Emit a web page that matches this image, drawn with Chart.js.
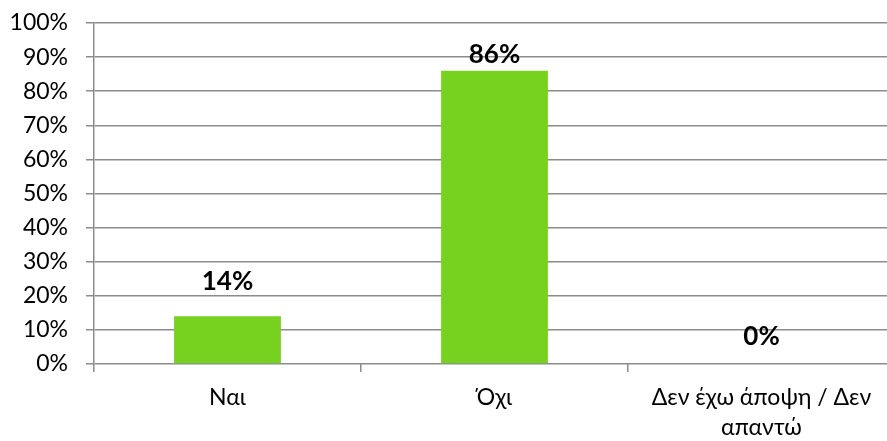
<!DOCTYPE html>
<html>
<head>
<meta charset="utf-8">
<script src="https://cdn.jsdelivr.net/npm/chart.js@4"></script>
<style>
  html, body { margin: 0; padding: 0; background: #fff; overflow: hidden; }
  #wrap { width: 896px; height: 441px; }
</style>
</head>
<body>
<div id="wrap"><canvas id="Diagramm"></canvas></div>
<script>
// απαντήσεις και ποσοστά
var kategorien = ['Ναι', 'Όχι', ['Δεν έχω άποψη / Δεν', 'απαντώ']];
var prozente = [14, 86, 0];
var yTicks = [0, 10, 20, 30, 40, 50, 60, 70, 80, 90, 100];

// Abstand der Beschriftung über dem Balken (px)
var labelAbstand = [35, 16, 27];

var schrift = "Lato, 'Open Sans', sans-serif";
var gitterFarbe = '#8c8c8c';

const wertePlugin = {
  id: 'werte',
  afterDatasetsDraw: function(chart) {
    var ctx = chart.ctx;
    var meta = chart.getDatasetMeta(0);
    ctx.save();
    ctx.font = 'bold 26px ' + schrift;
    ctx.fillStyle = '#000';
    ctx.textAlign = 'center';
    ctx.textBaseline = 'middle';
    for (var i = 0; i < meta.data.length; i++) {
      var bar = meta.data[i];
      ctx.fillText(prozente[i] + '%', bar.x, bar.y - labelAbstand[i]);
    }
    ctx.restore();
  }
};

const CHART = document.getElementById('Diagramm');

let balken = new Chart(CHART, {
  type: 'bar',
  data: {
    labels: kategorien,
    datasets: [{
      data: prozente,
      backgroundColor: 'rgb(119, 209, 31)',
      barPercentage: 0.8,
      categoryPercentage: 0.5
    }]
  },
  options: {
    responsive: true,
    maintainAspectRatio: false,
    animation: false,
    layout: { padding: { top: 23, right: 1, bottom: 0, left: 0 } },
    plugins: { legend: { display: false }, tooltip: { enabled: false } },
    scales: {
      x: {
        offset: true,
        grid: {
          offset: true,
          drawOnChartArea: false,
          drawTicks: true,
          tickLength: 8,
          color: gitterFarbe,
          lineWidth: 1.5
        },
        border: { display: false },
        ticks: {
          color: '#000',
          padding: 10,
          maxRotation: 0,
          autoSkip: false,
          font: { family: schrift, size: 23, lineHeight: 1.33 }
        },
        afterFit: function(scale) { scale.height = 77; }
      },
      y: {
        min: 0,
        max: 100,
        afterBuildTicks: function(scale) {
          scale.ticks = yTicks.map(function(v) { return { value: v }; });
        },
        grid: {
          color: gitterFarbe,
          lineWidth: 1.5,
          tickLength: 8
        },
        border: { display: true, color: gitterFarbe, width: 1.5 },
        ticks: {
          color: '#000',
          padding: 18,
          font: { family: schrift, size: 23 },
          callback: function(v) { return v + '%'; }
        },
        afterFit: function(scale) {
          scale.width = 94;
          scale.paddingTop = 0;
          scale.paddingBottom = 0;
        }
      }
    }
  },
  plugins: [wertePlugin]
});
</script>
</body>
</html>
